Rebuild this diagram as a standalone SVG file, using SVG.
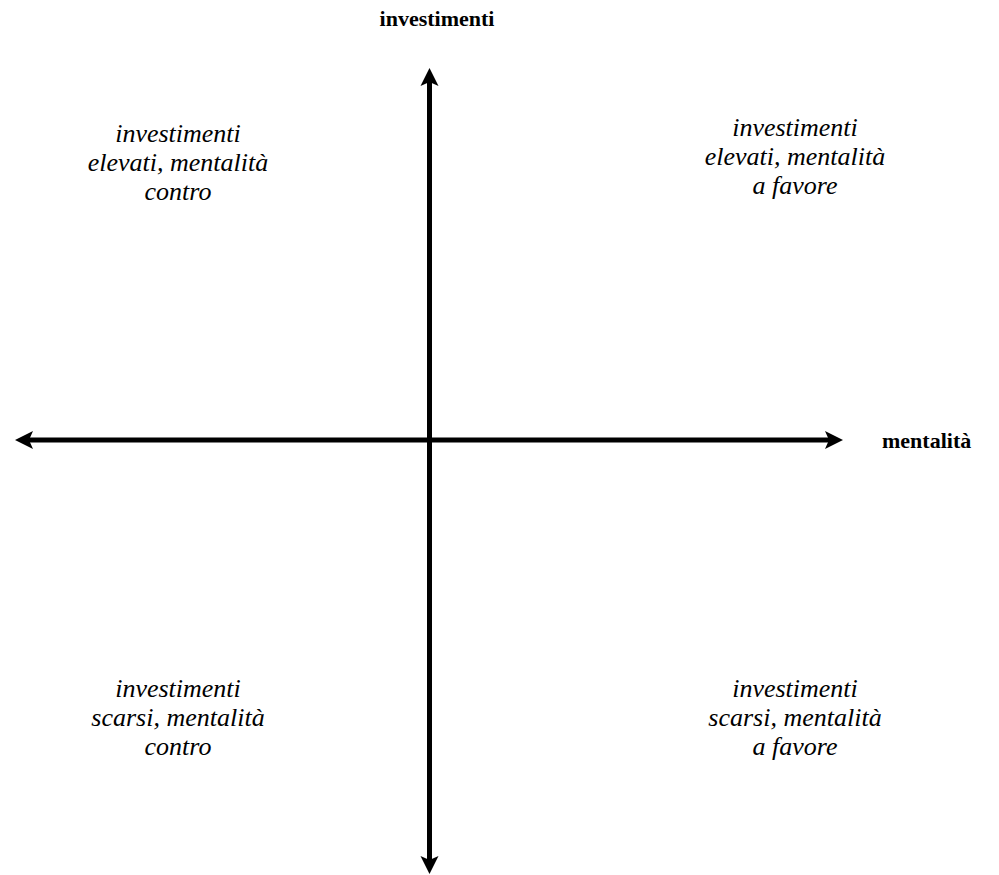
<svg xmlns="http://www.w3.org/2000/svg" width="999" height="875" viewBox="0 0 999 875">
  <style>
    .axis { stroke: #000; stroke-width: 5; fill: none; }
    .title { font-family: "Liberation Serif", "Times New Roman", serif; font-size: 22px; font-weight: bold; fill: #000; }
    .quad { font-family: "Liberation Serif", "Times New Roman", serif; font-size: 26px; font-style: italic; fill: #000; text-anchor: middle; }
  </style>
  <defs>
    <marker id="head" viewBox="0 0 20 20" refX="4" refY="10" markerWidth="20" markerHeight="20" markerUnits="userSpaceOnUse" orient="auto-start-reverse">
      <path d="M0,1 L18,10 L0,19 L4,10 Z" fill="#000"/>
    </marker>
  </defs>
  <g id="connectors">
    <line class="axis" x1="429.5" y1="860" x2="429.5" y2="82" marker-end="url(#head)" marker-start="url(#head)"/>
    <line class="axis" x1="29" y1="440" x2="829" y2="440" marker-end="url(#head)" marker-start="url(#head)"/>
  </g>
  <g id="axis-y-label">
    <text class="title" x="437" y="26" text-anchor="middle">investimenti</text>
  </g>
  <g id="axis-x-label">
    <text class="title" x="882" y="448">mentalità</text>
  </g>
  <g id="q-top-left">
    <text class="quad" x="178" y="142">investimenti</text>
    <text class="quad" x="178" y="171">elevati, mentalità</text>
    <text class="quad" x="178" y="200">contro</text>
  </g>
  <g id="q-top-right">
    <text class="quad" x="795" y="136">investimenti</text>
    <text class="quad" x="795" y="165">elevati, mentalità</text>
    <text class="quad" x="795" y="194">a favore</text>
  </g>
  <g id="q-bottom-left">
    <text class="quad" x="178" y="697">investimenti</text>
    <text class="quad" x="178" y="726">scarsi, mentalità</text>
    <text class="quad" x="178" y="755">contro</text>
  </g>
  <g id="q-bottom-right">
    <text class="quad" x="795" y="697">investimenti</text>
    <text class="quad" x="795" y="726">scarsi, mentalità</text>
    <text class="quad" x="795" y="755">a favore</text>
  </g>
</svg>
